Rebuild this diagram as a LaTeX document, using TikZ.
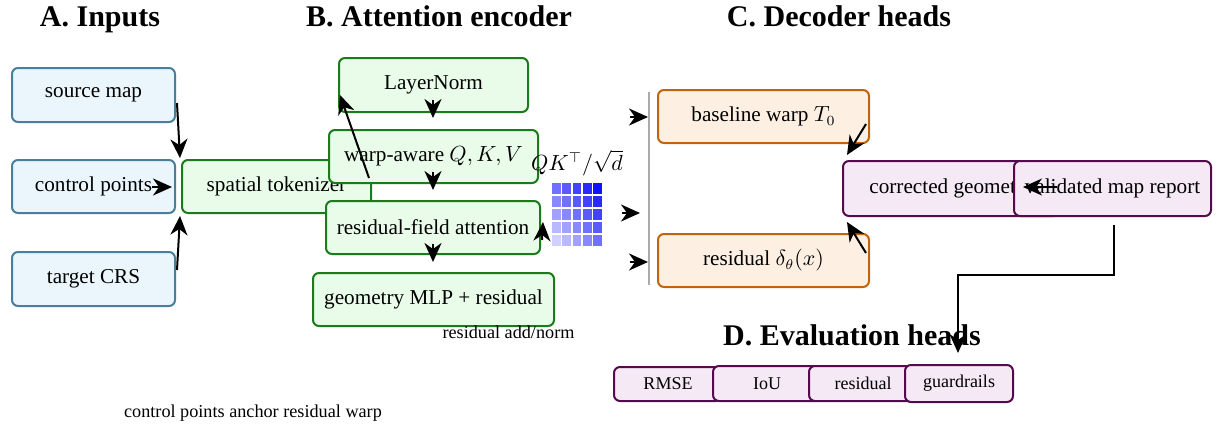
\documentclass[tikz,border=0pt]{standalone}
\usepackage[no-math]{fontspec}
\setmainfont{Liberation Serif}
\usetikzlibrary{arrows.meta}
\definecolor{inpF}{HTML}{EAF6FC}
\definecolor{inpD}{HTML}{4A7F9B}
\definecolor{encF}{HTML}{E9FCE9}
\definecolor{encD}{HTML}{1B7A1B}
\definecolor{decF}{HTML}{FDF0E3}
\definecolor{decD}{HTML}{C0650F}
\definecolor{evF}{HTML}{F4E9F4}
\definecolor{evD}{HTML}{560A4E}
\definecolor{sepG}{HTML}{AAAAAA}
\begin{document}
\begin{tikzpicture}[x=0.5pt,y=-0.5pt,
  box/.style={draw, rounded corners=3pt, line width=1pt, inner sep=0pt, align=center,
    font=\fontsize{10.6}{12.7}\selectfont},
  inbox/.style={box, draw=inpD, fill=inpF},
  encbox/.style={box, draw=encD, fill=encF},
  decbox/.style={box, draw=decD, fill=decF},
  evbox/.style={box, draw=evD, fill=evF},
  smallev/.style={evbox, font=\fontsize{9}{11}\selectfont, minimum width=54pt},
  ttl/.style={anchor=base, font=\fontsize{15}{18}\selectfont\bfseries},
  note/.style={font=\fontsize{9.1}{11}\selectfont, inner sep=0pt},
  arr/.style={-{Stealth[length=9.5pt,width=8.5pt,inset=3pt]}, line width=1pt, black}
]
\useasboundingbox (0,0) rectangle (1222,430);

% titles
\node[ttl] (tA) at (100,26) {A. Inputs};
\node[ttl] (tB) at (439,26) {B. Attention encoder};
\node[ttl] (tC) at (839,26) {C. Decoder heads};
\node[ttl] (tD) at (852,345) {D. Evaluation heads};

% inputs
\node[inbox, minimum width=81.5pt, minimum height=27pt] (src) at (93.5,95) {source map};
\node[inbox, minimum width=81.5pt, minimum height=26.5pt] (cp) at (93.5,186.5) {control points};
\node[inbox, minimum width=81.5pt, minimum height=27pt] (crs) at (93.5,279) {target CRS};

% encoder
\node[encbox, minimum width=94.5pt, minimum height=26.5pt] (tok) at (276.5,186.5) {spatial tokenizer};
\node[encbox, minimum width=94.5pt, minimum height=27pt] (ln) at (433.5,85) {LayerNorm};
\node[encbox, minimum width=104.5pt, minimum height=26.5pt] (qkv) at (433.5,156.5) {warp-aware $Q, K, V$};
\node[encbox, minimum width=107pt, minimum height=26.5pt] (rfa) at (433,227.5) {residual-field attention};
\node[encbox, minimum width=120.5pt, minimum height=26.5pt] (mlp) at (433.5,299.5) {geometry MLP + residual};
\node[note] (addn) at (508.5,332) {residual add/norm};

% attention heatmap
\node[inner sep=0pt, font=\fontsize{10.6}{12.7}\selectfont] (qk) at (577,163) {$QK^\top/\sqrt{d}$};
\foreach \r in {0,...,4}{
  \foreach \c in {0,...,4}{
    \pgfmathsetmacro\pct{18+75*(\c+4-\r)/8}
    \fill[blue!\pct!white, draw=white, line width=0.8pt]
      (551+\c*10.4,182+\r*13) rectangle ++(10.4,13);
  }
}

% separator
\coordinate (sepT) at (649,92);
\coordinate (sepB) at (649,285);
\draw[sepG, line width=1pt] (sepT) -- (sepB);

% decoder
\node[decbox, minimum width=105.5pt, minimum height=26.5pt] (base) at (763.5,116.5) {baseline warp $T_0$};
\node[decbox, minimum width=105.5pt, minimum height=26.5pt] (res) at (763.5,260.5) {residual $\delta_\theta(x)$};
\node[evbox, minimum width=108.5pt, minimum height=27.5pt] (corr) at (951.5,188.5) {corrected geometry};
\node[evbox, minimum width=98.5pt, minimum height=27.5pt] (rep) at (1112.5,188.5) {validated map report};

% evaluation
\node[smallev, minimum height=17pt] (rmse) at (668,384) {RMSE};
\node[smallev, minimum height=17.5pt] (iou) at (767,383.5) {IoU};
\node[smallev, minimum height=17.5pt] (resid) at (863,383.5) {residual};
\node[smallev, minimum height=18.5pt] (guard) at (959,383.5) {guardrails};

\node[note] (cap) at (253,413) {control points anchor residual warp};

% connector end points
\coordinate (a1s) at (177,103); \coordinate (a1e) at (180,158);
\coordinate (a2s) at (152,187); \coordinate (a2e) at (172,187);
\coordinate (a3s) at (177,270); \coordinate (a3e) at (180,216);
\coordinate (a4s) at (369,178); \coordinate (a4e) at (340,95);
\coordinate (a5s) at (433,100); \coordinate (a5e) at (433,118);
\coordinate (a6s) at (433,172); \coordinate (a6e) at (433,190);
\coordinate (a7s) at (433,244); \coordinate (a7e) at (433,262);
\coordinate (a8s) at (542,240); \coordinate (a8e) at (543,222);
\coordinate (b1s) at (630,117); \coordinate (b1e) at (648,117);
\coordinate (b2s) at (622,213); \coordinate (b2e) at (640,213);
\coordinate (b3s) at (630,262); \coordinate (b3e) at (648,262);
\coordinate (c1s) at (866,124); \coordinate (c1e) at (847,155);
\coordinate (c2s) at (866,253); \coordinate (c2e) at (847,222);
\coordinate (c3s) at (1057,187); \coordinate (c3e) at (1023,187);
\coordinate (d1s) at (1114,225); \coordinate (d1m) at (1114,275);
\coordinate (d1n) at (958,275); \coordinate (d1e) at (958,353);

\draw[arr] (a1s) -- (a1e);
\draw[arr] (a2s) -- (a2e);
\draw[arr] (a3s) -- (a3e);
\draw[arr] (a4s) -- (a4e);
\draw[arr] (a5s) -- (a5e);
\draw[arr] (a6s) -- (a6e);
\draw[arr] (a7s) -- (a7e);
\draw[arr] (a8s) -- (a8e);
\draw[arr] (b1s) -- (b1e);
\draw[arr] (b2s) -- (b2e);
\draw[arr] (b3s) -- (b3e);
\draw[arr] (c1s) -- (c1e);
\draw[arr] (c2s) -- (c2e);
\draw[arr] (c3s) -- (c3e);
\draw[arr] (d1s) -- (d1m) -- (d1n) -- (d1e);
\end{tikzpicture}
\end{document}
